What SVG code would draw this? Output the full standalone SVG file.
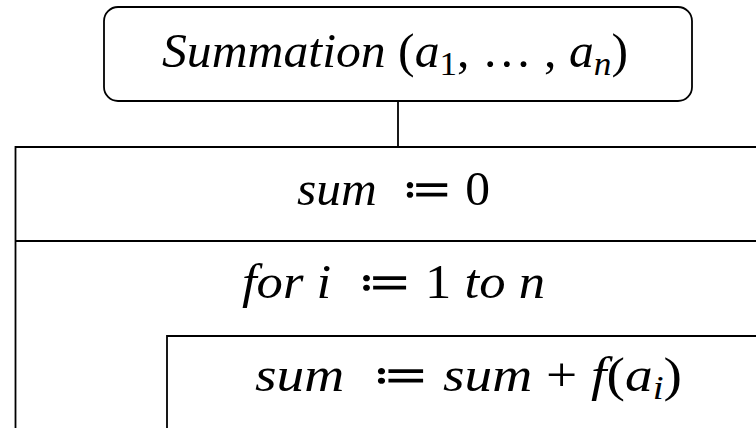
<svg xmlns="http://www.w3.org/2000/svg" width="756" height="428" viewBox="0 0 756 428">
<style>
.b{fill:#fff;stroke:#000;stroke-width:1.8}
.l{fill:none;stroke:#000;stroke-width:1.8}
.t{font-family:"Liberation Serif","DejaVu Serif",serif;font-size:48px;fill:#000;text-anchor:middle}
.i{font-style:italic}
.s{font-size:34px}
</style>
<rect width="756" height="428" fill="#fff"/>
<g id="start">
<rect class="b" x="104" y="7" width="588" height="94" rx="14"/>
<text class="t" x="395" y="67" textLength="466" lengthAdjust="spacingAndGlyphs"><tspan class="i">Summation</tspan> (<tspan class="i">a</tspan><tspan class="s" dy="8">1</tspan><tspan dy="-8">, … , </tspan><tspan class="i">a</tspan><tspan class="s i" dy="8">n</tspan><tspan dy="-8">)</tspan></text>
</g>
<g id="connectors">
<path class="l" d="M398 101 V147"/>
</g>
<g id="init">
<path class="l" d="M15.5 428 V147 H756 M15.5 241 H756"/>
<text class="t" x="393.5" y="205" textLength="193" lengthAdjust="spacingAndGlyphs"><tspan class="i">sum</tspan> &#160;≔ 0</text>
</g>
<g id="loop">
<text class="t" x="393.5" y="298" textLength="303" lengthAdjust="spacingAndGlyphs"><tspan class="i">for i</tspan> &#160;≔ 1 <tspan class="i">to n</tspan></text>
</g>
<g id="body">
<path class="l" d="M167 428 V336 H756"/>
<text class="t" x="468.5" y="391" textLength="427" lengthAdjust="spacingAndGlyphs"><tspan class="i">sum</tspan> &#160;≔ <tspan class="i">sum</tspan> + <tspan class="i">f</tspan>(<tspan class="i">a</tspan><tspan class="s i" dy="8">i</tspan><tspan dy="-8">)</tspan></text>
</g>
</svg>
